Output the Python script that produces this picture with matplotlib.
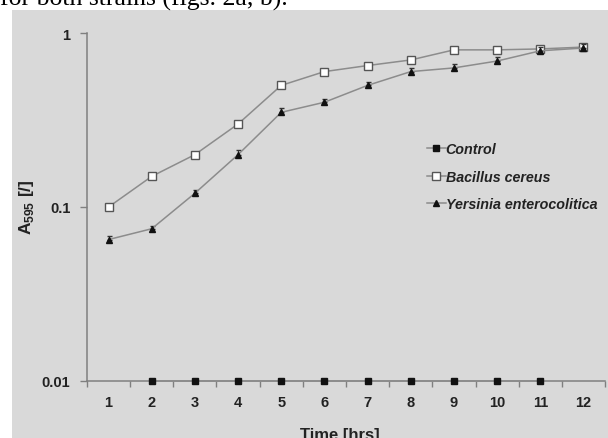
import numpy as np
import matplotlib.pyplot as plt
from matplotlib.patches import Rectangle

hours = [1, 2, 3, 4, 5, 6, 7, 8, 9, 10, 11, 12]
control = [np.nan, 0.01, 0.01, 0.01, 0.01, 0.01, 0.01, 0.01, 0.01, 0.01, 0.01, np.nan]
bacillus = [0.1, 0.15, 0.2, 0.3, 0.5, 0.6, 0.65, 0.7, 0.8, 0.8, 0.81, 0.83]
yersinia = [0.065, 0.075, 0.12, 0.2, 0.35, 0.4, 0.5, 0.6, 0.63, 0.69, 0.79, 0.82]
yersinia_err = [0.003, 0.003, 0.006, 0.012, 0.02, 0.02, 0.025, 0.03, 0.03, 0.035, 0.04, 0.04]

plt.rcParams["mathtext.fontset"] = "custom"
plt.rcParams["mathtext.rm"] = "Liberation Sans:bold"
plt.rcParams["mathtext.bf"] = "Liberation Sans:bold"

W, H = 608, 439
fig = plt.figure(figsize=(W / 100, H / 100), dpi=100)
fig.patch.set_facecolor("white")

# gray panel of the screenshot
fig.patches.append(Rectangle((12 / W, 0), 1, 1 - 11 / H, transform=fig.transFigure,
                             facecolor="#d9d9d9", edgecolor="none", zorder=-5))
# cut-off line of document text at the top
fig.text(0 / W, 1 - 6 / H, "for both strains (figs. 2a, b).", family="Liberation Serif",
         fontsize=18.5, va="baseline", ha="left", color="black")

ax = fig.add_axes([87 / W, 1 - 382 / H, (605 - 87) / W, (382 - 34) / H])
ax.set_zorder(2)
ax.set_facecolor("none")
ax.set_yscale("log")
ax.set_ylim(0.01, 1)
ax.set_xlim(0.5, 12.5)

line_col = "#8c8c8c"
ax.plot(hours, control, color=line_col, lw=1.1, marker="s", ms=4.5,
        mfc="#111111", mec="#111111", label="Control", zorder=3, clip_on=False)
ax.plot(hours, bacillus, color=line_col, lw=1.1, marker="s", ms=5.2,
        mfc="white", mec="#555555", mew=1.0, label="Bacillus cereus", zorder=3)
ax.errorbar(hours, yersinia, yerr=[[0] * 12, yersinia_err], fmt="none",
            ecolor="#333333", elinewidth=0.8, capsize=1.8, zorder=4)
ax.plot(hours, yersinia, color=line_col, lw=1.1, marker="^", ms=5,
        mfc="#111111", mec="#111111", label="Yersinia enterocolitica", zorder=5)

for s in ["top", "right"]:
    ax.spines[s].set_visible(False)
for s in ["left", "bottom"]:
    ax.spines[s].set_color("#7f7f7f")
    ax.spines[s].set_linewidth(1.1)

ax.set_yticks([0.01, 0.1, 1])
ax.set_yticklabels(["0.01", "0.1", "1"])
ax.yaxis.set_minor_locator(plt.NullLocator())
ax.tick_params(axis="y", direction="out", length=5, width=1, color="#7f7f7f", pad=7,
               labelsize=10.5, labelcolor="#222222")

ax.set_xticks(np.arange(0.5, 13, 1))
ax.set_xticklabels([])
ax.set_xticks(hours, minor=True)
ax.set_xticklabels([str(h) for h in hours], minor=True)
ax.tick_params(axis="x", which="major", direction="out", length=4, width=1, color="#7f7f7f")
ax.tick_params(axis="x", which="minor", length=0, pad=10, labelsize=10.5, labelcolor="#222222")
for lab in ax.get_xticklabels(minor=True) + ax.get_yticklabels():
    lab.set_fontweight("bold")
    lab.set_family("Liberation Sans")

fig.text(27 / W, 1 - 207 / H, r"A$_{\mathrm{595}}$ [/]", rotation=90, ha="center", va="center",
         fontsize=12.5, fontweight="bold", family="Liberation Sans", color="#222222")
fig.text(340 / W, 1 - 436 / H, "Time [hrs]", ha="center", va="center",
         fontsize=12, fontweight="bold", family="Liberation Sans", color="#222222")

leg = ax.legend(loc="upper left", bbox_to_anchor=(427 / W, 1 - 143 / H),
                bbox_transform=fig.transFigure, frameon=False, handlelength=1.3,
                handletextpad=0.0, labelspacing=0.95, borderpad=0, borderaxespad=0,
                prop={"family": "Liberation Sans", "weight": "bold", "style": "italic", "size": 10.3})
for t in leg.get_texts():
    t.set_color("#222222")

fig.savefig("out.png", dpi=100, facecolor=fig.get_facecolor())
plt.close(fig)
